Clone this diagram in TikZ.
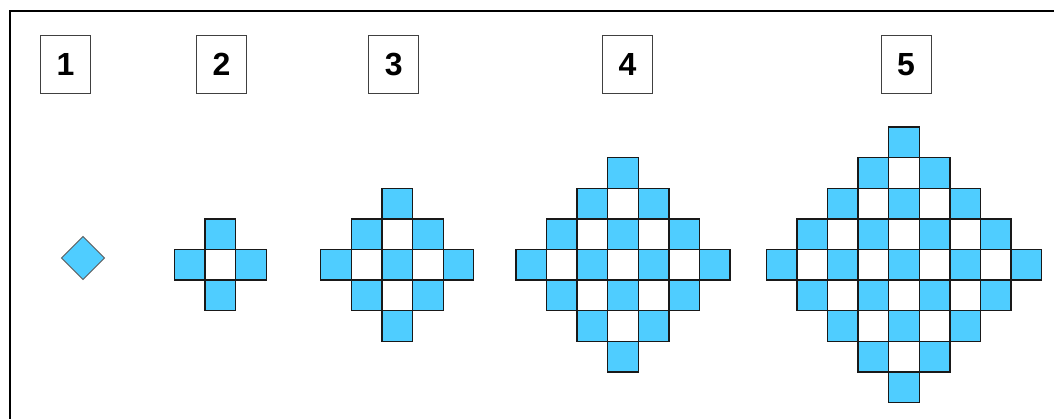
\documentclass[tikz,border=0pt]{standalone}
\usepackage{fontspec}
\setmainfont{Liberation Sans}
\definecolor{cellblue}{RGB}{79,205,255}
\tikzset{
  numbox/.style={draw=black!75, line width=0.9pt, fill=white, minimum width=50pt, minimum height=58pt, inner sep=0pt,
    font=\bfseries\fontsize{32}{32}\selectfont},
  cell/.style={draw=black!90, line width=1.3pt, minimum size=30.6pt, inner sep=0pt, outer sep=0pt},
  gem/.style={draw=black!65, line width=1pt, fill=cellblue, minimum size=30.4pt, inner sep=0pt, rotate=45},
  frameline/.style={draw=black, line width=1.1pt}
}
\begin{document}
\begin{tikzpicture}[x=1pt,y=-1pt]
\useasboundingbox (0,0) rectangle (1054,419);
\coordinate (fa) at (10,425);
\coordinate (fb) at (10,11);
\coordinate (fc) at (1060,11);
\draw[frameline] (fa) -- (fb) -- (fc);
% number boxes
\node[numbox] (b1) at (65.5,64) {1};
\node[numbox] (b2) at (221.5,64.5) {2};
\node[numbox] (b3) at (393.7,64.5) {3};
\node[numbox] (b4) at (627.5,64.5) {4};
\node[numbox] (b5) at (906,64.5) {5};
% figure 1
\node[gem] (g1) at (83,258) {};
% figures 2-5
\foreach \n/\cx in {2/220.3,3/397.3,4/623,5/904}{
  \pgfmathtruncatemacro\kk{\n-1}
  \pgfmathtruncatemacro\tk{2*\kk}
  \foreach \a in {0,...,\tk}{
    \pgfmathtruncatemacro\ii{\a-\kk}
    \pgfmathtruncatemacro\mm{\kk-abs(\ii)}
    \pgfmathtruncatemacro\tm{2*\mm}
    \foreach \b in {0,...,\tm}{
      \pgfmathtruncatemacro\jj{\b-\mm}
      \pgfmathtruncatemacro\pty{mod(abs(\ii)+abs(\jj)+\kk,2)}
      \ifnum\pty=0 \def\fc{cellblue}\else\def\fc{white}\fi
      \node[cell, fill=\fc] (c\n-\a-\b) at (\cx+\jj*30.6, 264.8+\ii*30.6) {};
    }
  }
}
\end{tikzpicture}
\end{document}
